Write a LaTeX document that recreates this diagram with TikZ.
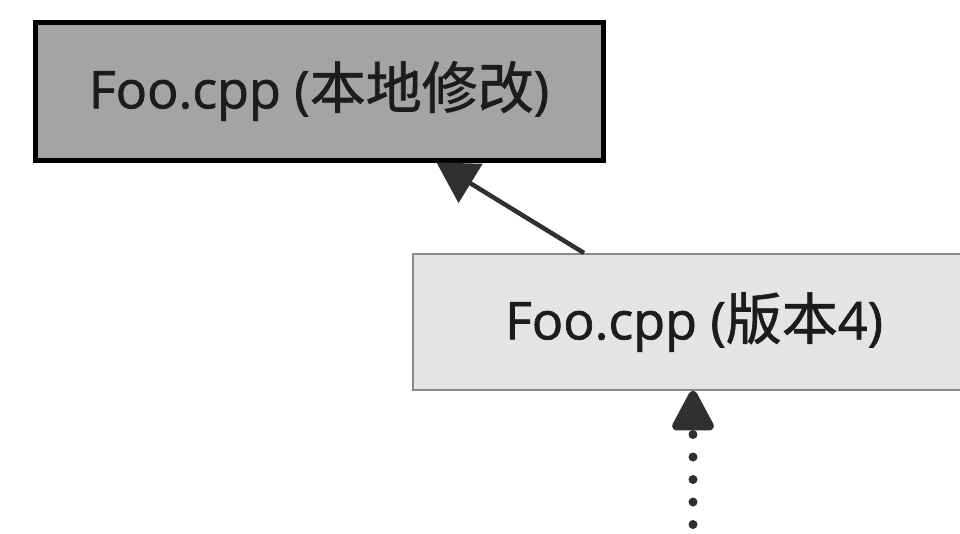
\documentclass[tikz,border=0pt]{standalone}
\usepackage{fontspec}
\setmainfont{Open Sans}
\newfontfamily\labelfont{Open Sans}[FakeBold=1.3]
\newfontfamily\cjk{Noto Sans CJK SC}[FakeBold=1.1]
\usetikzlibrary{arrows.meta}
\definecolor{boxdark}{HTML}{A4A4A4}
\definecolor{boxlight}{HTML}{E4E4E4}
\definecolor{edgegray}{HTML}{8A8A8A}
\definecolor{inkc}{HTML}{1C1C1C}
\definecolor{arrc}{HTML}{303030}
\tikzset{
  localbox/.style={draw=black, line width=5pt, fill=boxdark, minimum width=568pt, minimum height=138pt, inner sep=0pt, text=inkc, font=\labelfont\fontsize{52}{60}\selectfont},
  verbox/.style={draw=edgegray, line width=2pt, fill=boxlight, minimum width=562pt, minimum height=136pt, inner sep=0pt, text=inkc, font=\labelfont\fontsize{52}{60}\selectfont},
  solidarrow/.style={draw=arrc, line width=4.5pt, -{Triangle[length=40pt,width=45pt]}},
  dotarrow/.style={draw=arrc, line width=9pt, line cap=round, dash pattern=on 0pt off 22.5pt, -{Triangle[length=45pt,width=45pt,round=false]}},
}
\begin{document}
\begin{tikzpicture}[x=1pt,y=-1pt]
\useasboundingbox (0,0) rectangle (960,533);
\clip (0,0) rectangle (960,533);
\fill[white] (0,0) rectangle (960,533);
\node[localbox] (local) at (319,91) {Foo.cpp ({\cjk\fontsize{56}{60}\selectfont 本地修改})};
\node[verbox] (v4) at (694,322) {Foo.cpp ({\cjk\fontsize{56}{60}\selectfont 版本}4)};
\coordinate (dotstart) at (693,547);
\draw[solidarrow] ([xshift=172pt]v4.north west) -- ([xshift=404pt]local.south west);
\draw[dotarrow] (dotstart) -- (dotstart |- v4.south);
\end{tikzpicture}
\end{document}
